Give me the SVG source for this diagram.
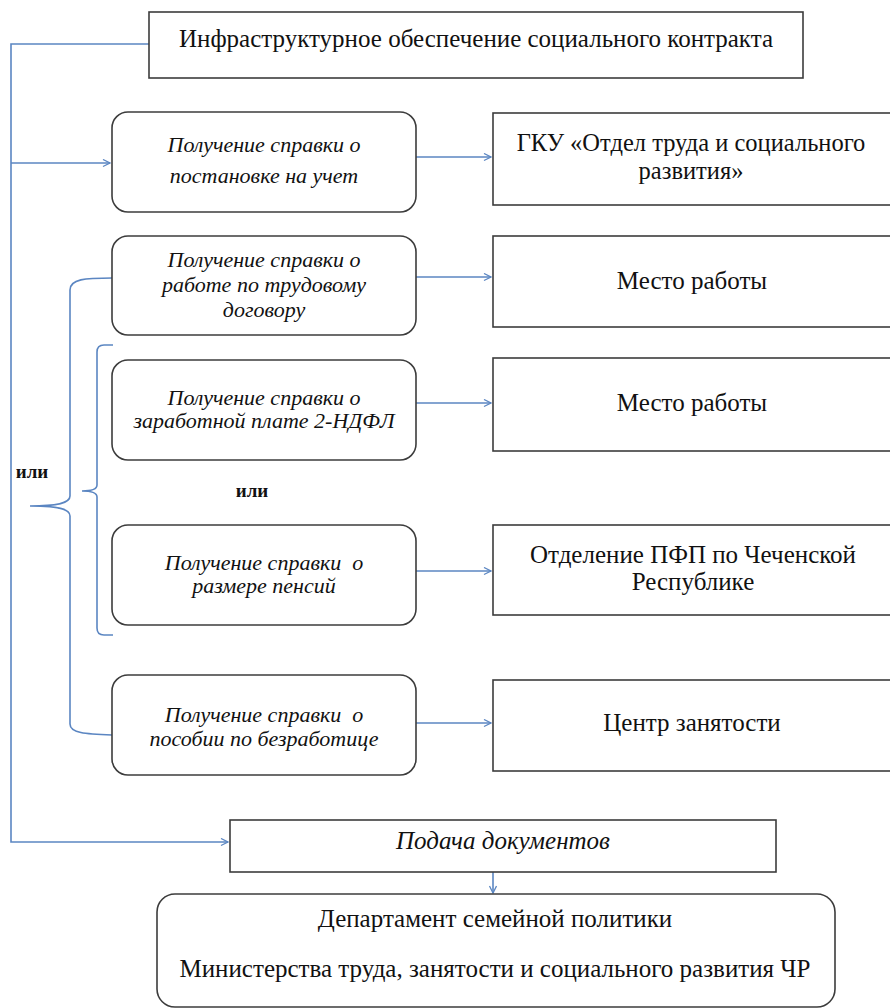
<svg xmlns="http://www.w3.org/2000/svg" width="890" height="1008" viewBox="0 0 890 1008">
<defs>
<marker id="arr" markerWidth="10" markerHeight="10" refX="8" refY="4" orient="auto" markerUnits="userSpaceOnUse">
<path d="M1,0.5 L8,4 L1,7.5" fill="none" stroke="#5b86c2" stroke-width="1.3"/>
</marker>
<style>
.box{fill:#fff;stroke:#3c3c3c;stroke-width:1.6}
.con{fill:none;stroke:#5b86c2;stroke-width:1.6}
text{fill:#111;text-anchor:middle}
</style>
</defs>
<rect width="890" height="1008" fill="#fff"/>
<g id="connectors">
<path class="con" d="M149,44 L11,44 L11,842 L228,842" marker-end="url(#arr)"/>
<path class="con" d="M11,163 L110,163" marker-end="url(#arr)"/>
<path class="con" d="M416,157 L491,157" marker-end="url(#arr)"/>
<path class="con" d="M416,277 L491,277" marker-end="url(#arr)"/>
<path class="con" d="M416,403 L491,403" marker-end="url(#arr)"/>
<path class="con" d="M416,571 L491,571" marker-end="url(#arr)"/>
<path class="con" d="M416,723 L491,723" marker-end="url(#arr)"/>
<path class="con" d="M493,872 L493,893" marker-end="url(#arr)"/>
<path class="con" d="M112,278 C85,278 70,279 70,290 L70,496 C70,503 58,506 30,506 C58,506 70,509 70,516 L70,724 C70,733 85,734 112,735"/>
<path class="con" d="M113,345 L104,345 Q97,345 97,352 L97,485 Q97,491 82,491 Q97,491 97,497 L97,628 Q97,635 104,635 L113,635"/>
</g>
<g id="top">
<rect class="box" x="149" y="12" width="654" height="66"/>
<text x="476" y="47" font-family="'Liberation Serif', serif" font-size="25">Инфраструктурное обеспечение социального контракта</text>
</g>
<g id="r1">
<rect class="box" x="112" y="112" width="304" height="100" rx="16"/>
<text x="264" y="152" font-family="'Liberation Serif', serif" font-size="22" font-style="italic">Получение справки о</text>
<text x="264" y="183" font-family="'Liberation Serif', serif" font-size="22" font-style="italic">постановке на учет</text>
</g>
<g id="g1">
<rect class="box" x="493" y="113" width="400" height="92"/>
<text x="691" y="151" font-family="'Liberation Serif', serif" font-size="24.5">ГКУ «Отдел труда и социального</text>
<text x="691" y="179" font-family="'Liberation Serif', serif" font-size="24.5">развития»</text>
</g>
<g id="r2">
<rect class="box" x="112" y="236" width="304" height="99" rx="16"/>
<text x="264" y="267" font-family="'Liberation Serif', serif" font-size="22" font-style="italic">Получение справки о</text>
<text x="264" y="292" font-family="'Liberation Serif', serif" font-size="22" font-style="italic">работе по трудовому</text>
<text x="264" y="317" font-family="'Liberation Serif', serif" font-size="22" font-style="italic">договору</text>
</g>
<g id="g2">
<rect class="box" x="493" y="236" width="400" height="91"/>
<text x="692" y="289" font-family="'Liberation Serif', serif" font-size="25">Место работы</text>
</g>
<g id="r3">
<rect class="box" x="112" y="360" width="304" height="100" rx="16"/>
<text x="264" y="405" font-family="'Liberation Serif', serif" font-size="22" font-style="italic">Получение справки о</text>
<text x="264" y="428" font-family="'Liberation Serif', serif" font-size="22" font-style="italic">заработной плате 2-НДФЛ</text>
</g>
<g id="g3">
<rect class="box" x="493" y="358" width="400" height="93"/>
<text x="692" y="411" font-family="'Liberation Serif', serif" font-size="25">Место работы</text>
</g>
<g id="r4">
<rect class="box" x="112" y="525" width="304" height="100" rx="16"/>
<text x="264" y="570" font-family="'Liberation Serif', serif" font-size="22" font-style="italic" xml:space="preserve">Получение справки  о</text>
<text x="264" y="593" font-family="'Liberation Serif', serif" font-size="22" font-style="italic">размере пенсий</text>
</g>
<g id="g4">
<rect class="box" x="493" y="525" width="400" height="90"/>
<text x="693" y="563" font-family="'Liberation Serif', serif" font-size="25">Отделение ПФП по Чеченской</text>
<text x="693" y="590" font-family="'Liberation Serif', serif" font-size="25">Республике</text>
</g>
<g id="r5">
<rect class="box" x="112" y="675" width="304" height="100" rx="16"/>
<text x="264" y="722" font-family="'Liberation Serif', serif" font-size="22" font-style="italic" xml:space="preserve">Получение справки  о</text>
<text x="264" y="746" font-family="'Liberation Serif', serif" font-size="22" font-style="italic">пособии по безработице</text>
</g>
<g id="g5">
<rect class="box" x="493" y="680" width="400" height="91"/>
<text x="692" y="731" font-family="'Liberation Serif', serif" font-size="25">Центр занятости</text>
</g>
<g id="or1"><text x="32" y="478" font-family="'Liberation Serif', serif" font-size="19" font-weight="bold">или</text></g>
<g id="or2"><text x="252" y="497" font-family="'Liberation Serif', serif" font-size="19" font-weight="bold">или</text></g>
<g id="submit">
<rect class="box" x="230" y="820" width="546" height="52"/>
<text x="503" y="849" font-family="'Liberation Serif', serif" font-size="25" font-style="italic">Подача документов</text>
</g>
<g id="dept">
<rect class="box" x="157" y="894" width="678" height="113" rx="18"/>
<text x="495" y="927" font-family="'Liberation Serif', serif" font-size="25">Департамент семейной политики</text>
<text x="495" y="977" font-family="'Liberation Serif', serif" font-size="25">Министерства труда, занятости и социального развития ЧР</text>
</g>
</svg>
